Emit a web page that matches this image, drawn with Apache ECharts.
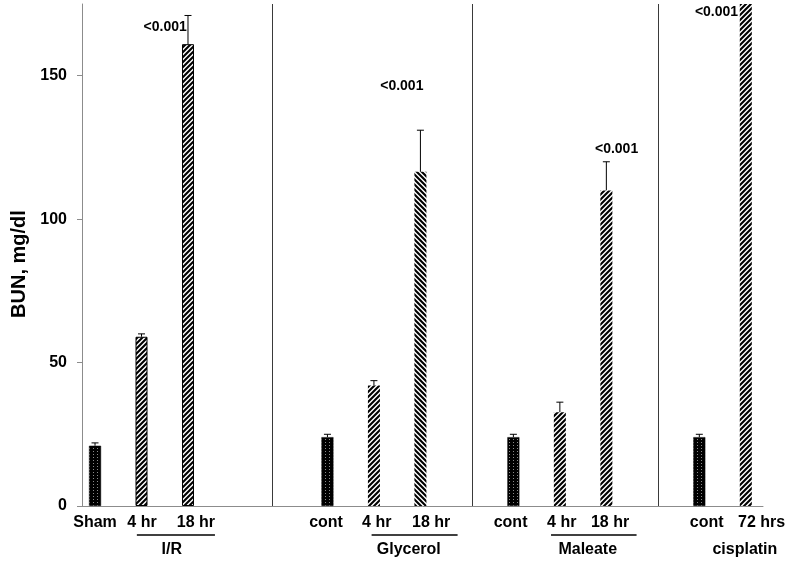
<!DOCTYPE html>
<html>
<head>
<meta charset="utf-8">
<script src="https://cdn.jsdelivr.net/npm/echarts@6/dist/echarts.min.js"></script>
<style>html,body{margin:0;padding:0;background:#fff;}#chart{width:796px;height:564px;}</style>
</head>
<body>
<div id="chart"></div>
<script>
// ---- data ----
var barNames   = ['Sham', '4 hr', '18 hr', 'cont', '4 hr', '18 hr', 'cont', '4 hr', '18 hr', 'cont', '72 hrs'];
var barGroups  = ['I/R', 'I/R', 'I/R', 'Glycerol', 'Glycerol', 'Glycerol', 'Maleate', 'Maleate', 'Maleate', 'cisplatin', 'cisplatin'];
var barSlots   = [0, 1, 2, 5, 6, 7, 9, 10, 11, 13, 14];          // slot index on x scale
var bunMean    = [21, 59, 161, 24, 42, 116.5, 24, 32.7, 110, 24, 182];
var bunErrUp   = [1, 1, 10, 1, 1.7, 14.5, 1, 3.5, 10, 1, 10];
var bunErrDown = [0, 0, 0, 0, 0, 0, 0, 0, 0, 0, 10];
var xLabelSlots = [0, 1.01, 2.17, 4.97, 6.06, 7.23, 8.94, 10.04, 11.08, 13.16, 14.34];
var groupNames  = ['I/R', 'Glycerol', 'Maleate', 'cisplatin'];
var groupCenter = [1.65, 6.75, 10.6, 13.98];
var groupLineFrom = [0.9, 5.95, 9.81, null];
var groupLineTo   = [2.58, 7.8, 11.65, null];
var separators  = [3.81, 8.11, 12.11];
var pTexts = ['<0.001', '<0.001', '<0.001', '<0.001'];
var pX     = [1.51, 6.6, 11.22, 13.37];
var pY     = [167, 146.3, 124.5, 172];
var yTicks = [0, 50, 100, 150];

// ---- patterns ----
function makeHatch(back) {
  var s = 5, c = document.createElement('canvas');
  c.width = s; c.height = s;
  var g = c.getContext('2d');
  g.fillStyle = '#fff'; g.fillRect(0, 0, s, s);
  g.strokeStyle = '#000'; g.lineWidth = 2.1;
  g.beginPath();
  if (!back) {
    g.moveTo(-1, s + 1); g.lineTo(s + 1, -1);
    g.moveTo(-1, 1); g.lineTo(1, -1);
    g.moveTo(s - 1, s + 1); g.lineTo(s + 1, s - 1);
  } else {
    g.moveTo(-1, -1); g.lineTo(s + 1, s + 1);
    g.moveTo(-1, s - 1); g.lineTo(1, s + 1);
    g.moveTo(s - 1, -1); g.lineTo(s + 1, 1);
  }
  g.stroke();
  return c;
}
function makeDots() {
  var c = document.createElement('canvas');
  c.width = 4; c.height = 3;
  var g = c.getContext('2d');
  g.fillStyle = '#000'; g.fillRect(0, 0, 4, 3);
  g.fillStyle = '#8a8a8a'; g.fillRect(1, 1, 1, 1);
  return c;
}
var fwd = {image: makeHatch(false), repeat: 'repeat'};
var bwd = {image: makeHatch(true), repeat: 'repeat'};
var dots = {image: makeDots(), repeat: 'repeat'};

var FONT = '"Liberation Sans", Arial, sans-serif';

var barData = barSlots.map(function (s, i) {
  var ctrl = (barNames[i] === 'Sham' || barNames[i] === 'cont');
  var style;
  if (ctrl) style = {color: dots, borderColor: '#000', borderWidth: 0.5};
  else if (barGroups[i] === 'Glycerol' && barNames[i] === '18 hr') style = {color: bwd, borderWidth: 0};
  else if (barGroups[i] === 'I/R') style = {color: fwd, borderColor: '#000', borderWidth: 1};
  else style = {color: fwd, borderWidth: 0};
  return {value: [s, bunMean[i]], itemStyle: style};
});
var errData = barSlots.map(function (s, i) { return [s, bunMean[i], bunErrUp[i], bunErrDown[i]]; });
var groupData = groupNames.map(function (n, i) { return [groupCenter[i], 0]; });
var pData = pX.map(function (x, i) { return [x, pY[i]]; });
var labelMap = {};
xLabelSlots.forEach(function (v, i) { labelMap[String(v)] = barNames[i]; });

var chart = echarts.init(document.getElementById('chart'), null, {renderer: 'canvas'});
chart.setOption({
  animation: false,
  backgroundColor: '#fff',
  grid: {left: 82, right: 33, top: 4, bottom: 58, containLabel: false},
  xAxis: {
    type: 'value', min: -0.28, max: 14.37,
    axisLine: {show: true, onZero: false, lineStyle: {color: '#8c8c8c', width: 1}},
    axisTick: {show: false},
    splitLine: {show: false},
    axisLabel: {
      show: true, customValues: xLabelSlots, margin: 9,
      color: '#000', fontFamily: FONT, fontWeight: 'bold', fontSize: 16,
      formatter: function (v) { return labelMap[String(v)] || ''; }
    }
  },
  yAxis: {
    type: 'value', min: 0, max: 175, interval: 50,
    name: 'BUN, mg/dl', nameLocation: 'middle', nameGap: 52,
    nameTextStyle: {color: '#000', fontFamily: FONT, fontWeight: 'bold', fontSize: 20, padding: [0, 0, 0, -18]},
    axisLine: {show: true, onZero: false, lineStyle: {color: '#8c8c8c', width: 1}},
    axisTick: {show: true, customValues: yTicks, length: 5, lineStyle: {color: '#8c8c8c'}},
    splitLine: {show: false},
    axisLabel: {customValues: yTicks, margin: 15, color: '#000', fontFamily: FONT, fontWeight: 'bold', fontSize: 16}
  },
  series: [
    {
      type: 'bar', data: barData, barWidth: 12, clip: true, silent: true,
      markLine: {
        silent: true, symbol: ['none', 'none'],
        label: {show: false},
        lineStyle: {color: '#3a3a3a', width: 1, type: 'solid'},
        data: separators.map(function (x) { return {xAxis: x}; })
      }
    },
    {
      type: 'custom', data: errData, clip: true, silent: true,
      renderItem: function (params, api) {
        var x = api.value(0), m = api.value(1), up = api.value(2), dn = api.value(3);
        var top = api.coord([x, m + up]), bot = api.coord([x, m - dn]);
        var ch = [{type: 'line', shape: {x1: top[0], y1: top[1], x2: bot[0], y2: bot[1]}, style: {stroke: '#000', lineWidth: 1}}];
        if (up > 0) ch.push({type: 'line', shape: {x1: top[0] - 3.5, y1: top[1], x2: top[0] + 3.5, y2: top[1]}, style: {stroke: '#000', lineWidth: 1}});
        if (dn > 0) ch.push({type: 'line', shape: {x1: bot[0] - 3.5, y1: bot[1], x2: bot[0] + 3.5, y2: bot[1]}, style: {stroke: '#000', lineWidth: 1}});
        return {type: 'group', children: ch};
      }
    },
    {
      type: 'custom', data: pData, clip: false, silent: true,
      renderItem: function (params, api) {
        var c = api.coord([api.value(0), api.value(1)]);
        return {type: 'text', x: c[0], y: c[1],
          style: {text: pTexts[params.dataIndex], fill: '#000', font: 'bold 14px ' + FONT, align: 'center', verticalAlign: 'middle'}};
      }
    },
    {
      type: 'custom', data: groupData, clip: false, silent: true,
      renderItem: function (params, api) {
        var i = params.dataIndex;
        var c = api.coord([api.value(0), 0]);
        var ch = [{type: 'text', x: c[0], y: c[1] + 44,
          style: {text: groupNames[i], fill: '#000', font: 'bold 16px ' + FONT, align: 'center', verticalAlign: 'middle'}}];
        if (groupLineFrom[i] != null) {
          var a = api.coord([groupLineFrom[i], 0]), b = api.coord([groupLineTo[i], 0]);
          ch.push({type: 'line', shape: {x1: a[0], y1: a[1] + 29, x2: b[0], y2: b[1] + 29}, style: {stroke: '#000', lineWidth: 1.5}});
        }
        return {type: 'group', children: ch};
      }
    }
  ]
});
</script>
</body>
</html>
